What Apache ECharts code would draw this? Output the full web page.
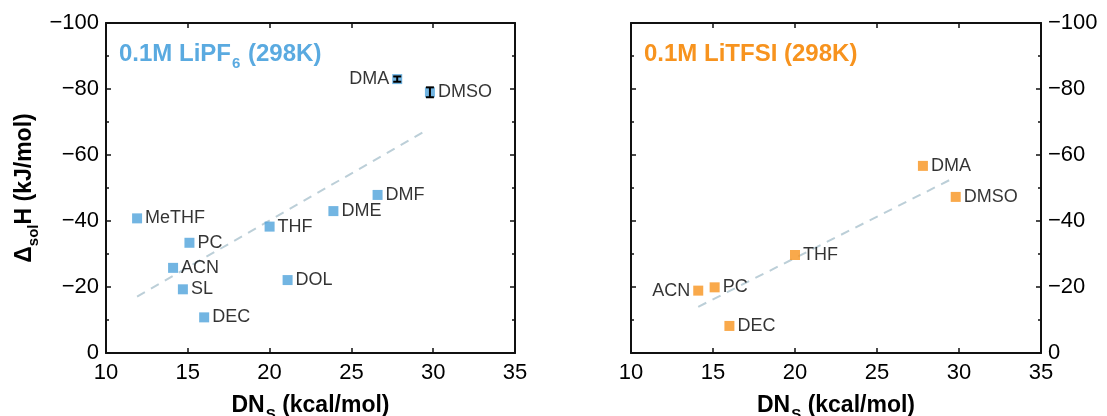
<!DOCTYPE html>
<html>
<head>
<meta charset="utf-8">
<script src="https://cdn.jsdelivr.net/npm/echarts@6/dist/echarts.min.js"></script>
<style>
  html, body { margin: 0; padding: 0; background: #fff; }
  #chart { width: 1107px; height: 416px; }
</style>
</head>
<body>
<div id="chart"></div>
<script>
// 数据: 供体数 DN (kcal/mol) 与溶解焓 ΔsolH (kJ/mol)
const pf6Names = ['MeTHF', 'PC', 'ACN', 'SL', 'DEC', 'THF', 'DOL', 'DME', 'DMF', 'DMA', 'DMSO'];
const pf6DN = [11.9, 15.1, 14.1, 14.7, 16.0, 20.0, 21.1, 23.9, 26.6, 27.8, 29.8];
const pf6H = [-40.8, -33.4, -25.8, -19.3, -10.8, -38.3, -22.1, -43.0, -47.9, -83.0, -79.0];
const pf6ErrNames = ['DMA', 'DMSO'];
const pf6Err = [0.8, 1.5];
const pf6Fit = [[11.9, -17.1], [29.7, -67.8]];

const tfsiNames = ['ACN', 'PC', 'DEC', 'THF', 'DMA', 'DMSO'];
const tfsiDN = [14.1, 15.1, 16.0, 20.0, 27.8, 29.8];
const tfsiH = [-18.9, -19.9, -8.2, -29.7, -56.7, -47.3];
const tfsiFit = [[14.1, -14.0], [29.7, -53.1]];

const xTicks = [10, 15, 20, 25, 30, 35];
const yTicks = [-100, -80, -60, -40, -20, 0];

// 颜色
const colors = {
    blue: '#4fa3db',
    blueTitle: '#5aaae0',
    orange: '#f7931e',
    fit: '#bccfd8',
    axis: '#111'
};

const font = 'Liberation Sans, Arial, Helvetica, sans-serif';

// 左侧标签的点
const pf6Left = ['DMA'];
const tfsiLeft = ['ACN'];

function pointData(names, xs, ys, leftList) {
    return names.map((n, i) => ({
        value: [xs[i], ys[i], n],
        label: { position: leftList.indexOf(n) >= 0 ? 'left' : 'right' }
    }));
}

function fmtY(v) {
    return v < 0 ? '\u2212' + (-v) : String(v);
}

function xAxes(gridIndex, withName) {
    const base = {
        type: 'value',
        gridIndex: gridIndex,
        min: xTicks[0],
        max: xTicks[xTicks.length - 1],
        interval: 5,
        splitLine: { show: false },
        axisLine: { onZero: false, lineStyle: { color: colors.axis, width: 2 } },
        axisTick: { inside: true, length: 5, lineStyle: { color: colors.axis, width: 1.5 } }
    };
    return [
        Object.assign({}, base, {
            position: 'bottom',
            name: withName ? '{a|DN}{s|S}{a| (kcal/mol)}' : '',
            nameLocation: 'middle',
            nameGap: 39,
            nameTextStyle: {
                rich: {
                    a: { fontFamily: font, fontSize: 23, fontWeight: 'bold', color: '#000', lineHeight: 27 },
                    s: { fontFamily: font, fontSize: 15, fontWeight: 'bold', color: '#000', verticalAlign: 'bottom', padding: [0, 0, -3, 1] }
                }
            },
            axisLabel: { fontFamily: font, fontSize: 22, color: '#000', margin: 9 }
        }),
        Object.assign({}, base, {
            position: 'top',
            axisLabel: { show: false }
        })
    ];
}

function yAxes(gridIndex, labelSide) {
    const base = {
        type: 'value',
        gridIndex: gridIndex,
        min: yTicks[0],
        max: yTicks[yTicks.length - 1],
        interval: 20,
        inverse: true,
        splitLine: { show: false },
        axisLine: { onZero: false, lineStyle: { color: colors.axis, width: 2 } },
        axisTick: { inside: true, length: 5, lineStyle: { color: colors.axis, width: 1.5 } },
        minorTick: { show: true, splitNumber: 2, length: 3, lineStyle: { color: colors.axis, width: 1.5 } }
    };
    const left = Object.assign({}, base, { position: 'left' });
    const right = Object.assign({}, base, { position: 'right' });
    const label = { fontFamily: font, fontSize: 22, color: '#000', margin: 7, formatter: fmtY };
    if (labelSide === 'left') {
        left.axisLabel = label;
        left.name = '{a|\u0394}{s|sol}{a|H (kJ/mol)}';
        left.nameLocation = 'middle';
        left.nameRotate = 90;
        left.nameGap = 68;
        left.nameTextStyle = {
            rich: {
                a: { fontFamily: font, fontSize: 23, fontWeight: 'bold', color: '#000', lineHeight: 27 },
                s: { fontFamily: font, fontSize: 15, fontWeight: 'bold', color: '#000', verticalAlign: 'bottom', padding: [0, 0, -3, 0] }
            }
        };
        right.axisLabel = { show: false };
    } else {
        right.axisLabel = label;
        left.axisLabel = { show: false };
    }
    return [left, right];
}

function scatter(name, data, color, xi, yi) {
    return {
        name: name,
        type: 'scatter',
        xAxisIndex: xi,
        yAxisIndex: yi,
        data: data,
        symbol: 'rect',
        symbolSize: 10,
        itemStyle: { color: color },
        z: 3,
        label: {
            show: true,
            formatter: p => p.data.value[2],
            fontFamily: font,
            fontSize: 18,
            color: '#000',
            distance: 3
        }
    };
}

function fitLine(data, xi, yi) {
    return {
        type: 'line',
        xAxisIndex: xi,
        yAxisIndex: yi,
        data: data,
        showSymbol: false,
        symbol: 'none',
        silent: true,
        z: 1,
        lineStyle: { color: colors.fit, width: 2, type: [9, 7] }
    };
}

// 误差棒数据
const errData = pf6ErrNames.map((n, i) => {
    const k = pf6Names.indexOf(n);
    return [pf6DN[k], pf6H[k], pf6Err[i]];
});

const chart = echarts.init(document.getElementById('chart'));

const option = {
    animation: false,
    backgroundColor: '#fff',
    title: [
        {
            text: '{a|0.1M LiPF}{s|6}{a| (298K)}',
            left: 114,
            top: 35,
            textStyle: {
                rich: {
                    a: { fontFamily: font, fontSize: 24, fontWeight: 'bold', color: colors.blueTitle, lineHeight: 28 },
                    s: { fontFamily: font, fontSize: 15, fontWeight: 'bold', color: colors.blueTitle, verticalAlign: 'bottom', padding: [0, 1, -3, 1] }
                }
            }
        },
        {
            text: '0.1M LiTFSI (298K)',
            left: 639,
            top: 35,
            textStyle: { fontFamily: font, fontSize: 24, fontWeight: 'bold', color: colors.orange, lineHeight: 28 }
        }
    ],
    grid: [
        { left: 106, top: 23, width: 409, height: 330, outerBoundsMode: 'none', containLabel: false },
        { left: 631, top: 23, width: 410, height: 330, outerBoundsMode: 'none', containLabel: false }
    ],
    xAxis: [].concat(xAxes(0, true), xAxes(1, true)),
    yAxis: [].concat(yAxes(0, 'left'), yAxes(1, 'right')),
    series: [
        fitLine(pf6Fit, 0, 0),
        fitLine(tfsiFit, 2, 2),
        scatter('LiPF6', pointData(pf6Names, pf6DN, pf6H, pf6Left), colors.blue, 0, 0),
        scatter('LiTFSI', pointData(tfsiNames, tfsiDN, tfsiH, tfsiLeft), colors.orange, 2, 2),
        {
            type: 'custom',
            xAxisIndex: 0,
            yAxisIndex: 0,
            z: 4,
            data: errData,
            renderItem: function (params, api) {
                const x = api.value(0), y = api.value(1), e = api.value(2);
                const p1 = api.coord([x, y - e]);
                const p2 = api.coord([x, y + e]);
                const w = 4;
                const style = { stroke: '#000', lineWidth: 2, fill: null };
                return {
                    type: 'group',
                    children: [
                        { type: 'line', shape: { x1: p1[0], y1: p1[1], x2: p2[0], y2: p2[1] }, style: style },
                        { type: 'line', shape: { x1: p1[0] - w, y1: p1[1], x2: p1[0] + w, y2: p1[1] }, style: style },
                        { type: 'line', shape: { x1: p2[0] - w, y1: p2[1], x2: p2[0] + w, y2: p2[1] }, style: style }
                    ]
                };
            }
        }
    ]
};

chart.setOption(option);
</script>
</body>
</html>
